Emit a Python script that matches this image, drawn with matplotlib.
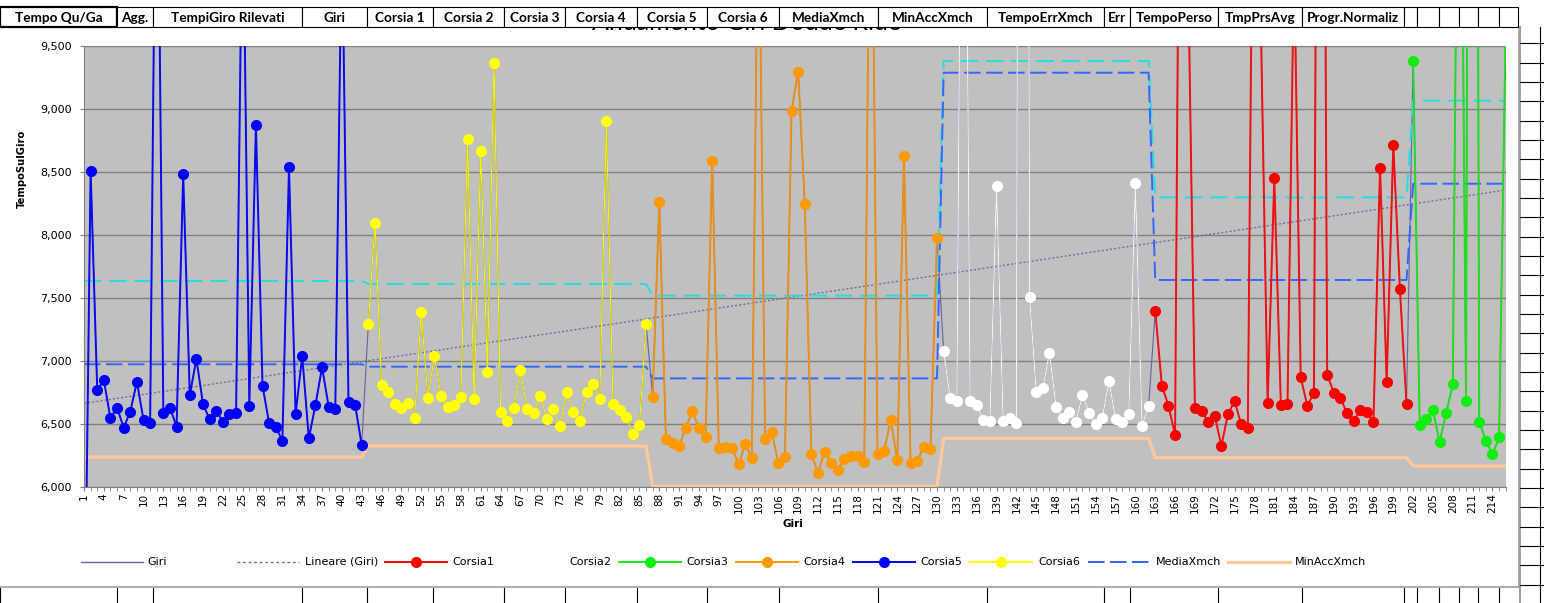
import numpy as np
import matplotlib.pyplot as plt
from matplotlib.patches import Rectangle
from matplotlib.ticker import FuncFormatter

# tempi sul giro (ms) per giro 1..216
tempi_giro = [
    4300, 8511, 6770, 6849, 6545, 6630, 6471, 6598, 6836, 6532,
    6505, 12000, 6585, 6630, 6479, 8482, 6730, 7016, 6656, 6537,
    6603, 6519, 6577, 6585, 10900, 6643, 8873, 6802, 6505, 6479,
    6365, 8537, 6579, 7040, 6386, 6651, 6950, 6638, 6616, 10500,
    6677, 6651, 6333, 7294, 8098, 6810, 6757, 6656, 6630, 6664,
    6545, 7392, 6709, 7042, 6725, 6632, 6651, 6717, 8762, 6699,
    8669, 6915, 9363, 6598, 6524, 6630, 6929, 6619, 6585, 6725,
    6540, 6616, 6487, 6751, 6593, 6526, 6757, 6815, 6696, 8905,
    6659, 6611, 6558, 6421, 6492, 7294, 6717, 8259, 6378, 6347,
    6328, 6466, 6603, 6466, 6394, 8587, 6307, 6315, 6312, 6180,
    6339, 6228, 11000, 6381, 6439, 6188, 6241, 8984, 9297, 8246,
    6259, 6114, 6280, 6193, 6135, 6222, 6249, 6246, 6196, 12000,
    6262, 6288, 6532, 6214, 8630, 6188, 6206, 6320, 6299, 7974,
    7079, 6704, 6685, 14000, 6685, 6651, 6532, 6524, 8392, 6526,
    6550, 6505, 30000, 7505, 6757, 6783, 7066, 6638, 6545, 6593,
    6519, 6730, 6590, 6497, 6550, 6841, 6540, 6519, 6577, 8410,
    6487, 6643, 7400, 6804, 6646, 6413, 14000, 10000, 6630, 6603,
    6519, 6566, 6328, 6577, 6683, 6497, 6466, 12500, 9600, 6669,
    8450, 6651, 6659, 10200, 6870, 6646, 6743, 18000, 6892, 6749,
    6709, 6585, 6524, 6611, 6598, 6513, 8535, 6836, 8714, 7572,
    6659, 9381, 6492, 6537, 6611, 6355, 6590, 6815, 13000, 6685,
    25000, 6519, 6368, 6262, 6394, 9650,
]
giri = np.arange(1, len(tempi_giro) + 1)
tempi = np.array(tempi_giro, dtype=float)

# manche: (corsia, primo giro, ultimo giro)
manche = [(5, 1, 43), (6, 44, 86), (4, 87, 130), (2, 131, 162), (1, 163, 201), (3, 202, 216)]
media_xmch = [6974, 6955, 6862, 9288, 7643, 8407]
min_acc_xmch = [6238, 6325, 6005, 6386, 6233, 6167]
tempo_err_xmch = [7635, 7611, 7519, 9381, 8299, 9066]
trend_primo, trend_ultimo = 6664, 8357

colori = {1: '#FF0000', 2: '#FFFFFF', 3: '#11EE11', 4: '#FF9900', 5: '#0000FF', 6: '#FFFF00'}
colori_linea = {1: '#F01010', 2: '#F4F4F4', 3: '#22DD22', 4: '#E8901E', 5: '#0A0AF0', 6: '#F4F400'}
spessori = {1: 1.4, 2: 0.9, 3: 1.4, 4: 1.4, 5: 1.4, 6: 0.9}

intestazioni = ["Tempo Qu/Ga", "Agg.", "TempiGiro Rilevati", "Giri", "Corsia 1", "Corsia 2",
                "Corsia 3", "Corsia 4", "Corsia 5", "Corsia 6", "MediaXmch", "MinAccXmch",
                "TempoErrXmch", "Err", "TempoPerso", "TmpPrsAvg", "Progr.Normaliz",
                "", "", "", "", "", ""]
colonne = [0, 117, 153, 302, 367, 433, 504, 565, 637, 707, 779, 878, 987, 1104, 1130,
           1218, 1302, 1404, 1417, 1439, 1459, 1478, 1499, 1518]


def per_giro(valori):
    out = np.full(len(giri), np.nan)
    for (c, a, b), v in zip(manche, valori):
        out[a - 1:b] = v
    return out


W, H = 1544, 603
fig = plt.figure(figsize=(W / 100, H / 100), dpi=100)
plt.rcParams['font.family'] = ['DejaVu Sans']

deco = fig.add_axes([0, 0, 1, 1], zorder=0)
deco.set_xlim(0, W)
deco.set_ylim(H, 0)
deco.axis('off')

# area grafico bianca + bordi foglio
deco.add_patch(Rectangle((-2, 27), 1521, 560, facecolor='white', edgecolor='#A0A0A0', lw=1.2, zorder=1))
# titolo del grafico, quasi tutto nascosto dalla riga di intestazione
titolo = deco.text(747, 30.5, 'Andamento Giri Dodde Ride', ha='center', va='baseline', fontsize=18,
                   family='Lato', zorder=2)
clip = Rectangle((0, 26.7), W, 10, transform=deco.transData)
titolo.set_clip_path(clip)

for (x0, x1), lab in zip(zip(colonne[:-1], colonne[1:]), intestazioni):
    lw = 1.6 if x0 == 0 else 0.8
    deco.add_patch(Rectangle((x0, 7.3), x1 - x0, 19.4, facecolor='white', edgecolor='black', lw=lw, zorder=5))
    if lab:
        deco.text((x0 + x1) / 2, 17.5, lab, ha='center', va='center', fontsize=9.8,
                  fontweight='bold', family='Lato', zorder=6)
    deco.plot([x0, x0], [588, 603], color='black', lw=0.8, zorder=1)

# colonna a destra
deco.plot([1520, 1520], [27, 603], color='#A0A0A0', lw=1.5, zorder=1)
deco.plot([1539.5, 1539.5], [27, 603], color='black', lw=0.8, zorder=1)
for y in np.arange(43.3, 603, 19.33):
    deco.plot([1520, 1544], [y, y], color='black', lw=0.8, zorder=1)

ax = fig.add_axes([84 / W, 1 - 487 / H, (1505.7 - 84) / W, (487 - 46) / H], zorder=1)
ax.set_facecolor('#C0C0C0')

ax.plot(giri, tempi, color='#6464A0', lw=0.8, zorder=2)
ax.plot([giri[0], giri[-1]], [trend_primo, trend_ultimo], color='#7070A0', lw=1.0,
        dashes=(1.5, 1.5), zorder=2.2)

ax.plot(giri, per_giro(tempo_err_xmch), color='#22E0E0', lw=1.4, dashes=(9, 4), zorder=2.5)
ax.plot(giri, per_giro(media_xmch), color='#3366FF', lw=1.4, dashes=(8.5, 2.8), zorder=2.5)
ax.plot(giri, per_giro(min_acc_xmch), color='#FFC896', lw=2.3, zorder=2.5)

for corsia, a, b in manche:
    sel = (giri >= a) & (giri <= b)
    ax.plot(giri[sel], tempi[sel], color=colori_linea[corsia], lw=spessori[corsia], zorder=3)
    ax.plot(giri[sel], tempi[sel], 'o', ms=7, color=colori[corsia], mec=colori[corsia],
            zorder=3.5)

ax.set_xlim(1, 216)
ax.set_ylim(6000, 9500)
ax.set_yticks(np.arange(6000, 9501, 500))
ax.yaxis.set_major_formatter(FuncFormatter(lambda v, p: f'{v:,.0f}'))
ax.set_xticks(giri[::3])
ax.set_xticklabels([str(g) for g in giri[::3]])
ax.set_xticks(giri, minor=True)
ax.tick_params(axis='x', which='both', length=3, color='#808080', labelsize=7.5,
               labelrotation=90, pad=1.5)
ax.tick_params(axis='y', length=3, color='#808080', labelsize=8, pad=5.5)
ax.yaxis.grid(True, color='#808080', lw=1.0)
ax.set_axisbelow(True)
for s in ['top', 'right']:
    ax.spines[s].set_visible(False)
for s in ['left', 'bottom']:
    ax.spines[s].set_color('#808080')

deco.text(22, 169, 'TempoSulGiro', rotation=90, ha='center', va='center', fontsize=7.2,
          fontweight='bold')
deco.text(793, 524, 'Giri', ha='center', va='center', fontsize=7.5, fontweight='bold')

# legenda
voci = [
    ('Giri', dict(color='#6464A0', lw=1.0), None, 81, 147),
    ('Lineare (Giri)', dict(color='#7070A0', lw=1.0, dashes=(2, 2)), None, 237, 305),
    ('Corsia1', dict(color=colori[1], lw=1.4), colori[1], 385, 452),
    ('Corsia2', dict(color=colori[2], lw=1.4), colori[2], 502, 569),
    ('Corsia3', dict(color=colori[3], lw=1.4), colori[3], 619, 686),
    ('Corsia4', dict(color=colori[4], lw=1.4), colori[4], 736, 803),
    ('Corsia5', dict(color=colori[5], lw=1.4), colori[5], 853, 920),
    ('Corsia6', dict(color=colori[6], lw=1.4), colori[6], 970, 1038),
    ('MediaXmch', dict(color='#3366FF', lw=1.4, dashes=(8.5, 2.8)), None, 1088, 1156),
    ('MinAccXmch', dict(color='#FFC896', lw=2.3), None, 1228, 1295),
]
for nome, stile, mk, x0, xt in voci:
    deco.plot([x0, x0 + 62], [562, 562], zorder=2, **stile)
    if mk:
        deco.plot([x0 + 31], [562], 'o', ms=7, color=mk, zorder=3)
    deco.text(xt, 562, nome, ha='left', va='center', fontsize=8, zorder=3)

fig.savefig('out.png', dpi=100)
